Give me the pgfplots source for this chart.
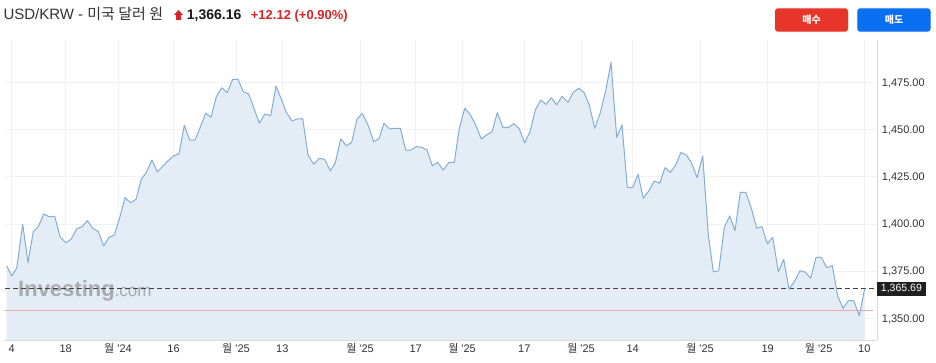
\documentclass[border=0pt]{standalone}
\usepackage{pgfplots}
\pgfplotsset{compat=1.18}
\usepackage{fontspec}
\setmainfont{Liberation Sans}
\newfontfamily\kr{Noto Sans CJK KR}
\definecolor{linec}{RGB}{130,174,212}
\definecolor{fillc}{RGB}{228,237,245}
\definecolor{txt}{RGB}{51,51,51}
\definecolor{upred}{RGB}{214,38,38}
\definecolor{btnred}{RGB}{232,53,42}
\definecolor{btnblue}{RGB}{10,110,240}
\definecolor{prevc}{RGB}{240,165,165}
\newcommand\wol[1]{{\kr 월} \textquotesingle#1}
\pgfplotstableread{
x y
6.7 1377.7
11.7 1372.4
16.7 1376.5
22.7 1399.8
28.0 1379.4
33.3 1395.9
38.3 1398.5
43.7 1405.2
49.3 1403.8
54.7 1404.0
60.0 1393.2
65.7 1390.0
71.0 1391.8
76.7 1397.3
82.0 1398.5
87.3 1401.7
92.7 1397.7
98.3 1395.9
103.7 1388.3
109.0 1392.9
114.3 1394.1
120.0 1403.8
125.0 1413.9
130.7 1411.2
136.0 1413.0
141.3 1423.6
146.0 1427.1
152.0 1433.8
157.3 1427.6
163.0 1430.7
168.3 1433.5
173.7 1436.1
179.0 1437.0
184.3 1452.2
189.7 1444.4
195.0 1444.4
200.3 1451.2
205.7 1458.6
211.0 1456.5
216.3 1467.4
221.7 1472.1
227.3 1469.5
232.7 1476.6
238.0 1476.6
243.3 1470.0
248.7 1468.8
254.0 1461.2
259.3 1453.3
265.0 1458.2
270.7 1457.3
276.0 1473.0
281.7 1465.6
286.0 1459.4
292.0 1454.5
297.3 1455.6
302.7 1455.7
308.0 1436.5
313.7 1431.6
319.3 1434.7
324.7 1434.2
330.3 1428.0
335.3 1432.4
340.7 1445.0
346.3 1441.4
351.7 1443.2
357.0 1455.4
362.3 1458.6
368.0 1452.4
373.7 1443.5
379.0 1445.1
384.0 1453.3
389.7 1450.3
395.0 1450.6
400.3 1450.6
405.7 1439.1
411.0 1439.1
416.3 1440.9
421.7 1440.6
427.0 1439.1
432.3 1430.7
437.7 1432.6
443.3 1428.5
449.0 1432.6
454.3 1432.6
459.3 1450.6
464.7 1461.2
470.0 1458.1
475.3 1452.9
481.3 1445.0
486.7 1447.1
492.0 1448.8
497.3 1458.9
503.0 1451.0
508.3 1451.0
513.7 1453.1
519.0 1450.6
524.7 1442.9
530.0 1448.8
535.3 1460.3
540.7 1465.6
546.0 1463.3
551.3 1466.8
556.7 1463.0
562.0 1467.6
568.0 1464.4
573.3 1469.7
578.7 1471.8
584.0 1469.7
589.3 1463.0
594.7 1450.6
600.3 1458.9
606.0 1471.3
611.0 1485.6
616.7 1445.9
622.0 1452.4
627.3 1419.2
632.7 1419.2
638.0 1426.3
643.3 1413.6
648.7 1417.4
654.3 1422.7
659.7 1421.5
665.0 1429.8
670.3 1427.3
675.7 1431.2
681.0 1437.9
686.3 1436.5
691.7 1432.1
697.0 1424.5
702.7 1436.0
708.3 1394.1
713.3 1374.7
718.7 1375.1
724.3 1398.2
729.7 1404.2
735.0 1396.4
740.3 1416.7
745.7 1416.7
751.3 1408.3
756.7 1397.7
762.0 1398.5
767.3 1389.4
772.7 1392.9
778.3 1374.7
783.7 1381.2
789.0 1365.4
794.3 1369.4
800.0 1375.2
805.3 1374.4
810.7 1371.2
816.0 1382.3
821.3 1382.3
826.7 1376.8
832.3 1377.9
837.7 1361.8
843.0 1355.3
848.3 1359.3
853.7 1359.3
859.3 1351.4
864.7 1365.69
}\usdkrw
\begin{document}
\begin{tikzpicture}[x=1pt,y=1pt]
\useasboundingbox (0,0) rectangle (936,363);
\fill[white] (0,0) rectangle (936,363);
\begin{axis}[
  at={(5pt,23pt)}, anchor=south west,
  scale only axis, width=871.7pt, height=300pt,
  xmin=5, xmax=876.7, ymin=1338.5, ymax=1497.4,
  axis x line*=bottom, axis y line*=right,
  axis line style={black!15},
  major tick length=0pt,
  xtick={11.7,65.7,118,173.5,236,282.3,360,415.7,462,524.3,581,632.7,700,767.7,818.7,864.3},
  xticklabels={4,18,\wol{24},16,\wol{25},13,\wol{25},17,\wol{25},17,\wol{25},14,\wol{25},19,\wol{25},10},
  ytick={1350,1375,1400,1425,1450,1475},
  yticklabels={{1,350.00},{1,375.00},{1,400.00},{1,425.00},{1,450.00},{1,475.00}},
  grid=major, major grid style={black!5, line width=0.6pt},
  tick label style={text=txt, font=\fontsize{11}{13}\selectfont},
  xticklabel style={anchor=base, yshift=-13pt, inner sep=0pt},
  yticklabel style={anchor=west, xshift=5pt, inner sep=0pt, text depth=0pt},
  clip=false,
]
\addplot[fill=fillc, draw=none] table[x=x,y=y] {\usdkrw} \closedcycle;
\node[anchor=base west, inner sep=0pt, text=black!50, opacity=0.6, font=\fontsize{22}{24}\selectfont\bfseries] at (axis cs:18,1361.5) {Investing\fontsize{17}{20}\selectfont\mdseries.com};
\addplot[prevc, line width=0.7pt] coordinates {(5,1354.04) (873,1354.04)};
\addplot[black!75, line width=0.7pt, dash pattern=on 4.5pt off 3.5pt] coordinates {(5,1365.69) (876.7,1365.69)};
\addplot[linec, line width=1pt, line join=round] table[x=x,y=y] {\usdkrw};
\node[anchor=west, fill=black!88, text=white, inner sep=0pt, minimum width=49pt, minimum height=14pt, font=\fontsize{10.5}{12}\selectfont] at (axis cs:876.7,1365.69) {1,365.69};
\end{axis}
% header
\node[anchor=base west, inner sep=0pt, text=txt, font=\fontsize{15}{17}\selectfont] at (3.3,343) {USD/KRW - {\kr 미국 달러 원}};
\fill[upred] (178.5,353) -- (183,348) -- (181,348) -- (181,343) -- (176,343) -- (176,348) -- (174,348) -- cycle;
\node[anchor=base west, inner sep=0pt, text=black!90, font=\fontsize{14}{16}\selectfont\bfseries] at (186.7,343) {1,366.16};
\node[anchor=base west, inner sep=0pt, text=upred, font=\fontsize{13}{16}\selectfont\bfseries] at (250.7,343) {+12.12 (+0.90\%)};
% buttons
\fill[black!6, rounded corners=3pt] (774.5,330.5) rectangle (848.5,355.5);
\fill[btnred, rounded corners=3pt] (775,331.3) rectangle (848,354.7);
\node[text=white, font=\kr\fontsize{10}{12}\selectfont\bfseries] at (811.5,343) {매수};
\fill[black!6, rounded corners=3pt] (856.5,330.5) rectangle (931,355.5);
\fill[btnblue, rounded corners=3pt] (857.3,331.3) rectangle (930.5,354.7);
\node[text=white, font=\kr\fontsize{10}{12}\selectfont\bfseries] at (894,343) {매도};
\end{tikzpicture}
\end{document}
